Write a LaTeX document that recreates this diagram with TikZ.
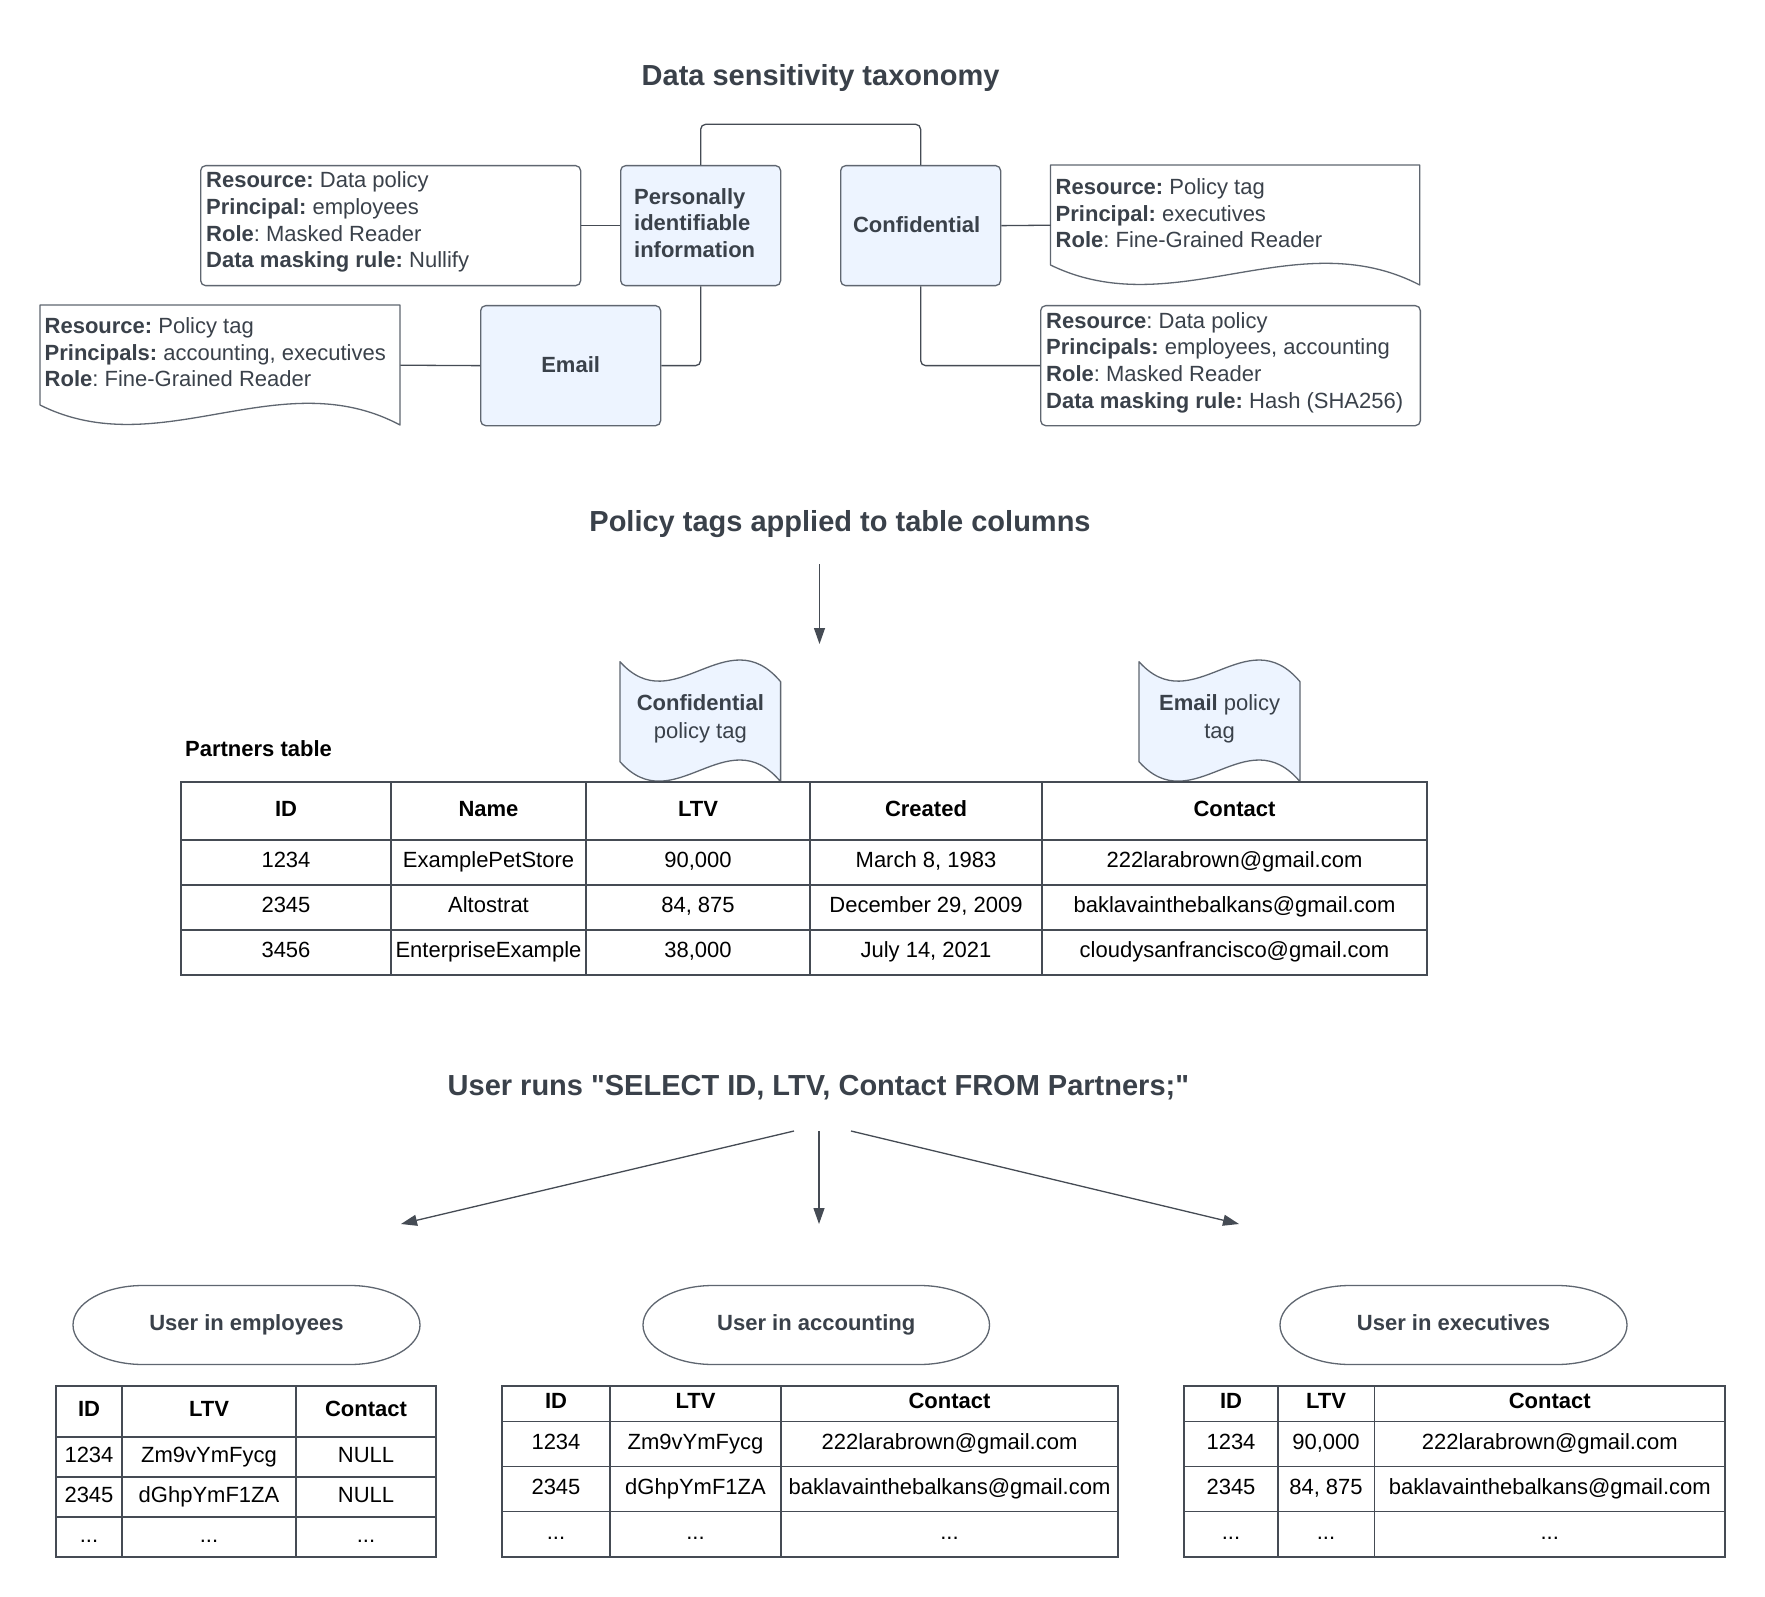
\documentclass[tikz,border=0pt]{standalone}
\usepackage{fontspec}
\setmainfont{Liberation Sans}[Ligatures=TeXOff]
\usetikzlibrary{arrows.meta}
\definecolor{txt}{HTML}{3A414A}
\definecolor{ln}{HTML}{454B54}
\definecolor{bdr}{HTML}{5F6670}
\definecolor{boxblue}{HTML}{EDF4FF}

\newcommand{\docshape}[4]{%
 \pgfmathsetmacro{\dshW}{#3-#1}%
 \draw[docst] (#1,#2) -- (#3,#2) -- (#3,#4) .. controls ({#1+2*\dshW/3},{#4-64}) and ({#1+\dshW/3},{#4+40}) .. (#1,{#4-20}) -- cycle;}
\newcommand{\tagshape}[4]{%
 \pgfmathsetmacro{\tgW}{#3-#1}%
 \draw[tagst] (#1,#2) .. controls ({#1+\tgW/3},{#2+60}) and ({#1+2*\tgW/3},{#2-44}) .. (#3,{#2+20}) -- (#3,#4) .. controls ({#1+2*\tgW/3},{#4-64}) and ({#1+\tgW/3},{#4+40}) .. (#1,{#4-20}) -- cycle;}
\newcommand{\stadshape}[4]{%
 \pgfmathsetmacro{\stA}{#1+70}\pgfmathsetmacro{\stB}{#3-70}%
 \pgfmathsetmacro{\stM}{(#2+#4)/2}\pgfmathsetmacro{\stK}{0.5523*70}\pgfmathsetmacro{\stL}{0.5523*(#4-#2)/2}%
 \draw[stad] (\stA,#2) -- (\stB,#2) .. controls ({\stB+\stK},#2) and (#3,{\stM-\stL}) .. (#3,\stM) .. controls (#3,{\stM+\stL}) and ({\stB+\stK},#4) .. (\stB,#4) -- (\stA,#4) .. controls ({\stA-\stK},#4) and (#1,{\stM+\stL}) .. (#1,\stM) .. controls (#1,{\stM-\stL}) and ({\stA-\stK},#2) .. cycle;}

\tikzset{
 title/.style={font=\fontsize{29}{34}\selectfont\bfseries, text=txt, inner sep=0},
 catbox/.style={draw=bdr, line width=1.3, fill=boxblue, rounded corners=5, minimum width=160, minimum height=120, inner sep=0, font=\fontsize{22}{26.5}\selectfont\bfseries, text=txt},
 note/.style={draw=bdr, line width=1.3, fill=white, rounded corners=5, minimum height=120, inner sep=0},
 shapebox/.style={inner sep=0, draw=none},
 doctext/.style={inner sep=0, align=left, font=\fontsize{22}{26.7}\selectfont, text=txt},
 tagtext/.style={inner sep=0, align=center, font=\fontsize{22}{28}\selectfont, text=txt},
 docst/.style={draw=bdr, line width=1.3, fill=white, line join=round},
 tagst/.style={draw=bdr, line width=1.3, fill=boxblue, line join=round},
 stad/.style={draw=bdr, line width=1.3, fill=white},
 conn/.style={draw=ln, line width=1.3, rounded corners=5},
 arr/.style={draw=ln, line width=1.3, -{Triangle[length=16pt,width=11pt]}},
 tbl/.style={draw=ln, line width=1.3},
 cell/.style={font=\fontsize{22}{26}\selectfont, text=black, inner sep=0, text height=15.5, text depth=5.5},
 hcell/.style={cell, font=\fontsize{22}{26}\selectfont\bfseries},
 stadtext/.style={shapebox, font=\fontsize{22}{26}\selectfont\bfseries, text=txt, text height=15.5, text depth=5.5},
}

\begin{document}
\frenchspacing
\begin{tikzpicture}[x=1pt,y=-1pt]
\useasboundingbox (0,0) rectangle (1765,1597);
\fill[white] (0,0) rectangle (1765,1597);

% ---------- Section 1: taxonomy ----------
\node[title] (t1) at (820.6,78) {Data sensitivity taxonomy};

\node[catbox, anchor=north west] (pii) at (620,165)
 {\hspace*{-12pt}\raisebox{2.5pt}{\begin{tabular}{@{}l@{}}Personally\\identifiable\\information\end{tabular}}};
\node[catbox, anchor=north west] (conf) at (840,165) {\raisebox{2pt}{Confidential}\hspace*{8pt}};
\node[catbox, anchor=north west, minimum width=180] (email) at (480,305) {\raisebox{1.5pt}{Email}};

\node[note, minimum width=380, anchor=north west] (note1) at (200,165) {};
\node[doctext, anchor=west] (note1t) at (206,222.2)
 {\textbf{Resource:} Data policy\\\textbf{Principal:} employees\\\textbf{Role}: Masked Reader\\\textbf{Data masking rule:} Nullify};
\node[note, minimum width=379.7, anchor=north west] (note2) at (1040,305) {};
\node[doctext, anchor=west] (note2t) at (1046,362.5)
 {\textbf{Resource}: Data policy\\\textbf{Principals:} employees, accounting\\\textbf{Role}: Masked Reader\\\textbf{Data masking rule:} Hash (SHA256)};

\docshape{40}{305}{400}{425}
\node[shapebox, minimum width=360, minimum height=120, anchor=north west] (doc1) at (40,305) {};
\node[doctext, anchor=west] (doc1t) at (44.5,352.4)
 {\textbf{Resource:} Policy tag\\\textbf{Principals:} accounting, executives\\\textbf{Role}: Fine-Grained Reader};

\docshape{1050.5}{165}{1419.7}{285}
\node[shapebox, minimum width=369.2, minimum height=120, anchor=north west] (doc2) at (1050.5,165) {};
\node[doctext, anchor=west] (doc2t) at (1055.5,213.2)
 {\textbf{Resource:} Policy tag\\\textbf{Principal:} executives\\\textbf{Role}: Fine-Grained Reader};

\draw[conn] (pii.north) -- ++(0,-40.7) -| (conf.north);
\draw[conn] (note1.east) -- (pii.west);
\draw[conn] (pii.south) |- (email.east);
\draw[conn] (doc1.east) -- (email.west);
\draw[conn] (conf.east) -- (doc2.west);
\draw[conn] (conf.south) |- (note2.west);

% ---------- Section 2: policy tags ----------
\node[title] (t2) at (840,524) {Policy tags applied to table columns};
\coordinate (a0s) at (819.5,564);
\coordinate (a0e) at (819.5,644);
\draw[arr] (a0s) -- (a0e);

\tagshape{620}{661.7}{780.6}{781.7}
\node[tagtext] (tagc) at (700.3,719) {\textbf{Confidential}\\policy tag};
\tagshape{1139}{661.7}{1300}{781.7}
\node[tagtext] (tage) at (1219.6,719) {\textbf{Email} policy\\tag};

\node[inner sep=0, anchor=west, font=\fontsize{22}{26}\selectfont\bfseries, text=black] (ptl) at (185,749) {Partners table};

\draw[tbl] (181,782) rectangle (1427,975);
\foreach \yy in {840,885,930} \draw[tbl] (181,\yy) -- (1427,\yy);
\foreach \xx in {391,586,810,1042} \draw[tbl] (\xx,782) -- (\xx,975);

\node[hcell] (pH1) at (286,811) {ID};
\node[hcell] (pH2) at (488.5,811) {Name};
\node[hcell] (pH3) at (698,811) {LTV};
\node[hcell] (pH4) at (926,811) {Created};
\node[hcell] (pH5) at (1234.5,811) {Contact};
\node[cell] (p11) at (286,862.5) {1234};
\node[cell] (p12) at (488.5,862.5) {ExamplePetStore};
\node[cell] (p13) at (698,862.5) {90,000};
\node[cell] (p14) at (926,862.5) {March 8, 1983};
\node[cell] (p15) at (1234.5,862.5) {222larabrown@gmail.com};
\node[cell] (p21) at (286,907.5) {2345};
\node[cell] (p22) at (488.5,907.5) {Altostrat};
\node[cell] (p23) at (698,907.5) {84, 875};
\node[cell] (p24) at (926,907.5) {December 29, 2009};
\node[cell] (p25) at (1234.5,907.5) {baklavainthebalkans@gmail.com};
\node[cell] (p31) at (286,952.5) {3456};
\node[cell] (p32) at (488.5,952.5) {EnterpriseExample};
\node[cell] (p33) at (698,952.5) {38,000};
\node[cell] (p34) at (926,952.5) {July 14, 2021};
\node[cell] (p35) at (1234.5,952.5) {cloudysanfrancisco@gmail.com};

% ---------- Section 3: query ----------
\node[title] (t3) at (818.4,1088) {User runs "SELECT ID, LTV, Contact FROM Partners;"};
\coordinate (qL) at (794,1131);  \coordinate (qLe) at (401,1224);
\coordinate (qM) at (819,1131);  \coordinate (qMe) at (819,1224);
\coordinate (qR) at (851,1131);  \coordinate (qRe) at (1239,1224);
\draw[arr] (qL) -- (qLe);
\draw[arr] (qM) -- (qMe);
\draw[arr] (qR) -- (qRe);

\stadshape{73}{1285.5}{420}{1364.5}
\node[stadtext, minimum width=347, minimum height=79] (uemp) at (246.5,1325) {User in employees};
\stadshape{643}{1285.5}{989.5}{1364.5}
\node[stadtext, minimum width=346.5, minimum height=79] (uacc) at (816.25,1325) {User in accounting};
\stadshape{1280}{1285.5}{1627}{1364.5}
\node[stadtext, minimum width=347, minimum height=79] (uexe) at (1453.5,1325) {User in executives};

% employees table
\draw[tbl] (56,1386) rectangle (436,1557);
\foreach \yy in {1437,1477,1517} \draw[tbl] (56,\yy) -- (436,\yy);
\foreach \xx in {122,296} \draw[tbl] (\xx,1386) -- (\xx,1557);
\node[hcell] (eH1) at (89,1411.5) {ID};
\node[hcell] (eH2) at (209,1411.5) {LTV};
\node[hcell] (eH3) at (366,1411.5) {Contact};
\node[cell] (e11) at (89,1457) {1234};
\node[cell] (e12) at (209,1457) {Zm9vYmFycg};
\node[cell] (e13) at (366,1457) {NULL};
\node[cell] (e21) at (89,1497) {2345};
\node[cell] (e22) at (209,1497) {dGhpYmF1ZA};
\node[cell] (e23) at (366,1497) {NULL};
\node[cell] (e31) at (89,1537) {...};
\node[cell] (e32) at (209,1537) {...};
\node[cell] (e33) at (366,1537) {...};

% accounting table
\draw[tbl] (502,1386) rectangle (1118,1557);
\foreach \yy in {1421.5,1466.5,1511.5} \draw[tbl] (502,\yy) -- (1118,\yy);
\foreach \xx in {610,781} \draw[tbl] (\xx,1386) -- (\xx,1557);
\node[hcell] (aH1) at (556,1403.75) {ID};
\node[hcell] (aH2) at (695.5,1403.75) {LTV};
\node[hcell] (aH3) at (949.5,1403.75) {Contact};
\node[cell] (a11) at (556,1444) {1234};
\node[cell] (a12) at (695.5,1444) {Zm9vYmFycg};
\node[cell] (a13) at (949.5,1444) {222larabrown@gmail.com};
\node[cell] (a21) at (556,1489) {2345};
\node[cell] (a22) at (695.5,1489) {dGhpYmF1ZA};
\node[cell] (a23) at (949.5,1489) {baklavainthebalkans@gmail.com};
\node[cell] (a31) at (556,1534.25) {...};
\node[cell] (a32) at (695.5,1534.25) {...};
\node[cell] (a33) at (949.5,1534.25) {...};

% executives table
\draw[tbl] (1184,1386) rectangle (1725,1557);
\foreach \yy in {1421.5,1466.5,1511.5} \draw[tbl] (1184,\yy) -- (1725,\yy);
\foreach \xx in {1278,1374.5} \draw[tbl] (\xx,1386) -- (\xx,1557);
\node[hcell] (xH1) at (1231,1403.75) {ID};
\node[hcell] (xH2) at (1326,1403.75) {LTV};
\node[hcell] (xH3) at (1549.75,1403.75) {Contact};
\node[cell] (x11) at (1231,1444) {1234};
\node[cell] (x12) at (1326,1444) {90,000};
\node[cell] (x13) at (1549.75,1444) {222larabrown@gmail.com};
\node[cell] (x21) at (1231,1489) {2345};
\node[cell] (x22) at (1326,1489) {84, 875};
\node[cell] (x23) at (1549.75,1489) {baklavainthebalkans@gmail.com};
\node[cell] (x31) at (1231,1534.25) {...};
\node[cell] (x32) at (1326,1534.25) {...};
\node[cell] (x33) at (1549.75,1534.25) {...};
\end{tikzpicture}
\end{document}
